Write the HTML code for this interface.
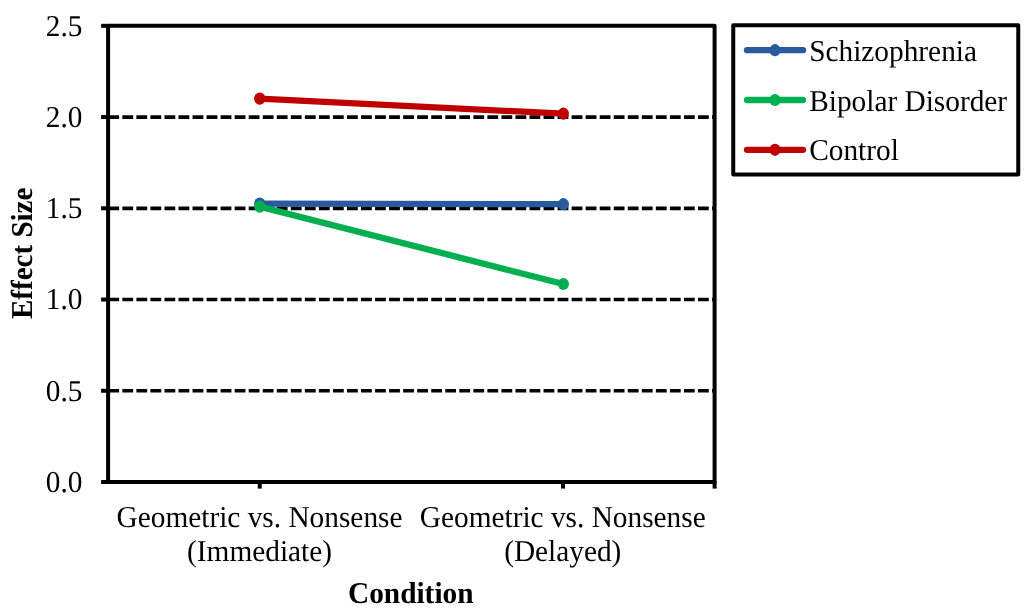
<!DOCTYPE html>
<html lang="en"><head><meta charset="utf-8"><title>Effect Size by Condition</title>
<style>html,body{margin:0;padding:0;background:#fff}body{width:1024px;height:609px;overflow:hidden}svg{display:block}text{font-family:"Liberation Serif","Times New Roman",Times,serif;font-size:29.33px;fill:#000;text-rendering:geometricPrecision}.b{font-weight:bold}</style></head><body>
<svg width="1024" height="609" viewBox="0 0 1024 609">
<rect width="1024" height="609" fill="#fff"/>
<line x1="108.30" y1="390.76" x2="714.60" y2="390.76" stroke="#000" stroke-width="3.7" stroke-dasharray="10.8 3.24"/>
<line x1="108.30" y1="299.52" x2="714.60" y2="299.52" stroke="#000" stroke-width="3.7" stroke-dasharray="10.8 3.24"/>
<line x1="108.30" y1="208.28" x2="714.60" y2="208.28" stroke="#000" stroke-width="3.7" stroke-dasharray="10.8 3.24"/>
<line x1="108.30" y1="117.04" x2="714.60" y2="117.04" stroke="#000" stroke-width="3.7" stroke-dasharray="10.8 3.24"/>
<rect x="108.10" y="25.80" width="606.50" height="456.20" fill="none" stroke="#000" stroke-width="4" stroke-linejoin="round"/>
<line x1="101.1" y1="482.00" x2="108.10" y2="482.00" stroke="#000" stroke-width="4"/>
<line x1="101.1" y1="390.76" x2="108.10" y2="390.76" stroke="#000" stroke-width="4"/>
<line x1="101.1" y1="299.52" x2="108.10" y2="299.52" stroke="#000" stroke-width="4"/>
<line x1="101.1" y1="208.28" x2="108.10" y2="208.28" stroke="#000" stroke-width="4"/>
<line x1="101.1" y1="117.04" x2="108.10" y2="117.04" stroke="#000" stroke-width="4"/>
<line x1="101.1" y1="25.80" x2="108.10" y2="25.80" stroke="#000" stroke-width="4"/>
<line x1="259.73" y1="481.00" x2="259.73" y2="488.6" stroke="#000" stroke-width="4"/>
<line x1="562.98" y1="481.00" x2="562.98" y2="488.6" stroke="#000" stroke-width="4"/>
<line x1="714.60" y1="481.00" x2="714.60" y2="488.6" stroke="#000" stroke-width="4"/>
<g fill="#285a9e" stroke="#285a9e"><line x1="259.73" y1="203.60" x2="563.38" y2="204.20" stroke-width="6.3" stroke-linecap="round"/><ellipse cx="259.73" cy="203.60" rx="5.6" ry="6.1" stroke="none"/><ellipse cx="563.38" cy="204.20" rx="5.6" ry="6.1" stroke="none"/></g>
<g fill="#00b050" stroke="#00b050"><line x1="259.73" y1="206.60" x2="563.38" y2="284.00" stroke-width="6.3" stroke-linecap="round"/><ellipse cx="259.73" cy="206.60" rx="5.6" ry="6.1" stroke="none"/><ellipse cx="563.38" cy="284.00" rx="5.6" ry="6.1" stroke="none"/></g>
<g fill="#c00000" stroke="#c00000"><line x1="259.73" y1="98.60" x2="563.38" y2="113.70" stroke-width="6.3" stroke-linecap="round"/><ellipse cx="259.73" cy="98.60" rx="5.6" ry="6.1" stroke="none"/><ellipse cx="563.38" cy="113.70" rx="5.6" ry="6.1" stroke="none"/></g>
<text transform="translate(82.4 492.00) scale(1 1.035)" text-anchor="end">0.0</text>
<text transform="translate(82.4 401.00) scale(1 1.035)" text-anchor="end">0.5</text>
<text transform="translate(82.4 309.00) scale(1 1.035)" text-anchor="end">1.0</text>
<text transform="translate(82.4 218.00) scale(1 1.035)" text-anchor="end">1.5</text>
<text transform="translate(82.4 127.00) scale(1 1.035)" text-anchor="end">2.0</text>
<text transform="translate(82.4 36.00) scale(1 1.035)" text-anchor="end">2.5</text>
<text transform="translate(259.53 527) scale(1 1.035)" text-anchor="middle">Geometric vs. Nonsense</text>
<text transform="translate(259.53 561) scale(1 1.035)" text-anchor="middle">(Immediate)</text>
<text transform="translate(562.77 527) scale(1 1.035)" text-anchor="middle">Geometric vs. Nonsense</text>
<text transform="translate(562.77 561) scale(1 1.035)" text-anchor="middle">(Delayed)</text>
<text class="b" transform="translate(410.75 603) scale(1 1.035)" text-anchor="middle">Condition</text>
<text class="b" transform="translate(32 253.30) rotate(-90) scale(0.99 1.035)" text-anchor="middle">Effect Size</text>
<rect x="733.25" y="25.25" width="285" height="149.25" fill="#fff" stroke="#000" stroke-width="4" stroke-linejoin="round"/>
<g fill="#285a9e" stroke="#285a9e"><line x1="747" y1="50.20" x2="803" y2="50.20" stroke-width="6.3" stroke-linecap="round"/><ellipse cx="775" cy="50.20" rx="5.6" ry="6.1" stroke="none"/></g>
<text transform="translate(809.2 61.00) scale(1 1.035)">Schizophrenia</text>
<g fill="#00b050" stroke="#00b050"><line x1="747" y1="100.00" x2="803" y2="100.00" stroke-width="6.3" stroke-linecap="round"/><ellipse cx="775" cy="100.00" rx="5.6" ry="6.1" stroke="none"/></g>
<text transform="translate(809.2 111.00) scale(1 1.035)">Bipolar Disorder</text>
<g fill="#c00000" stroke="#c00000"><line x1="747" y1="149.80" x2="803" y2="149.80" stroke-width="6.3" stroke-linecap="round"/><ellipse cx="775" cy="149.80" rx="5.6" ry="6.1" stroke="none"/></g>
<text transform="translate(809.2 160.00) scale(1 1.035)">Control</text>
</svg></body></html>
